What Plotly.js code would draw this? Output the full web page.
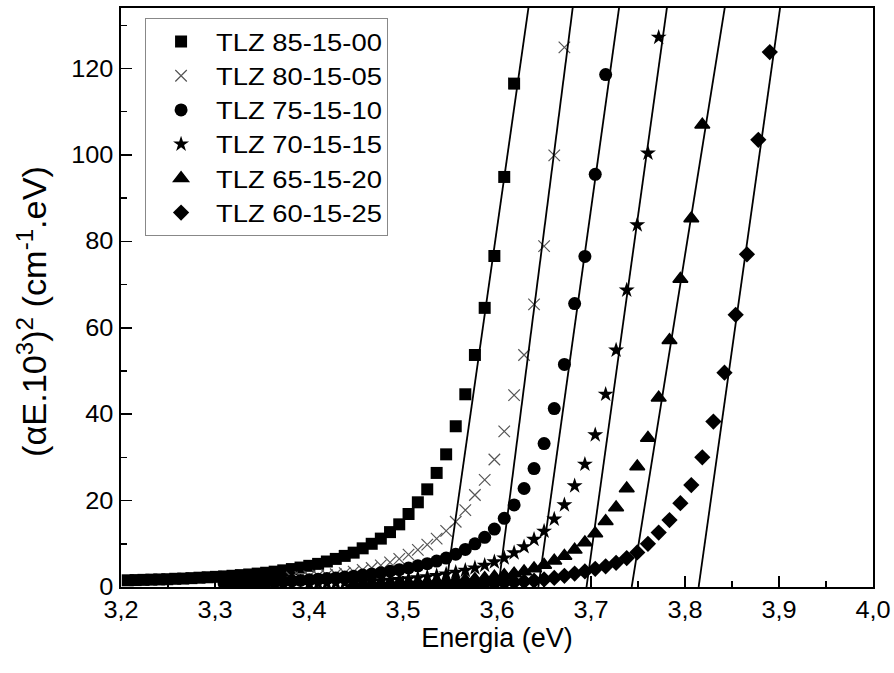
<!DOCTYPE html>
<html>
<head>
<meta charset="utf-8">
<script src="https://cdn.plot.ly/plotly-3.0.1.min.js"></script>
<style>
  html, body { margin: 0; padding: 0; background: #fff; }
  #chart { width: 894px; height: 673px; }
</style>
</head>
<body>
<div id="chart"></div>
<script>
// Tauc plot of TLZ glasses: (alpha*E*10^3)^2 versus photon energy, with linear fits of the absorption edge.
const sampleNames = ['TLZ 85-15-00', 'TLZ 80-15-05', 'TLZ 75-15-10', 'TLZ 70-15-15', 'TLZ 65-15-20', 'TLZ 60-15-25'];

// Photon energy (eV) and (alpha E 10^3)^2 (cm^-1 eV)^2 for each composition
const energy8515 = [3.6182, 3.6077, 3.5972, 3.5869, 3.5765, 3.5663, 3.5561, 3.5459, 3.5358, 3.5258,
  3.5158, 3.5059, 3.4960, 3.4862, 3.4764, 3.4667, 3.4571, 3.4475, 3.4380, 3.4285,
  3.4190, 3.4097, 3.4003, 3.3910, 3.3818, 3.3726, 3.3635, 3.3544, 3.3454, 3.3364,
  3.3275, 3.3186, 3.3097, 3.3010, 3.2922, 3.2835, 3.2749, 3.2662, 3.2577, 3.2492,
  3.2407, 3.2323, 3.2239, 3.2155, 3.2072];
const tauc8515 = [116.5, 94.9, 76.6, 64.6, 53.7, 44.6, 37.2, 30.7, 26.4, 22.6,
  19.6, 16.9, 14.5, 12.7, 11.2, 10.0, 8.95, 7.95, 7.2, 6.5,
  5.9, 5.35, 4.9, 4.5, 4.15, 3.85, 3.55, 3.3, 3.1, 2.9,
  2.75, 2.6, 2.45, 2.35, 2.25, 2.15, 2.05, 1.95, 1.9, 1.8,
  1.75, 1.7, 1.65, 1.6, 1.55];

const energy8015 = [3.6717, 3.6609, 3.6501, 3.6394, 3.6288, 3.6182, 3.6077, 3.5972, 3.5869, 3.5765,
  3.5663, 3.5561, 3.5459, 3.5358, 3.5258, 3.5158, 3.5059, 3.4960, 3.4862, 3.4764,
  3.4667, 3.4571, 3.4475, 3.4380, 3.4285, 3.4190, 3.4097, 3.4003, 3.3910, 3.3818];
const tauc8015 = [124.9, 99.9, 78.9, 65.4, 53.7, 44.4, 36.0, 29.5, 24.8, 21.3,
  17.8, 15.1, 13.0, 11.2, 9.8, 8.6, 7.5, 6.5, 5.7, 5.0,
  4.4, 3.95, 3.55, 3.2, 2.95, 2.75, 2.6, 2.45, 2.3, 2.2];

const energy7515 = [3.7156, 3.7045, 3.6935, 3.6826, 3.6717, 3.6609, 3.6501, 3.6394, 3.6288, 3.6182,
  3.6077, 3.5972, 3.5869, 3.5765, 3.5663, 3.5561, 3.5459, 3.5358, 3.5258, 3.5158,
  3.5059, 3.4960, 3.4862, 3.4764, 3.4667, 3.4571, 3.4475, 3.4380, 3.4285, 3.4190,
  3.4097, 3.4003, 3.3910, 3.3818, 3.3726, 3.3635, 3.3544, 3.3454, 3.3364, 3.3275,
  3.3186, 3.3097];
const tauc7515 = [118.6, 95.5, 76.5, 65.6, 51.5, 41.3, 33.2, 27.4, 22.8, 19.0,
  15.9, 13.4, 11.5, 10.0, 8.7, 7.6, 6.7, 6.0, 5.4, 4.9,
  4.4, 4.0, 3.65, 3.3, 3.0, 2.75, 2.5, 2.3, 2.1, 1.95,
  1.8, 1.65, 1.5, 1.4, 1.3, 1.2, 1.1, 1.0, 0.95, 0.9,
  0.85, 0.8];

const energy7015 = [3.7720, 3.7606, 3.7492, 3.7380, 3.7267, 3.7156, 3.7045, 3.6935, 3.6826, 3.6717,
  3.6609, 3.6501, 3.6394, 3.6288, 3.6182, 3.6077, 3.5972, 3.5869, 3.5765, 3.5663,
  3.5561, 3.5459, 3.5358, 3.5258, 3.5158, 3.5059, 3.4960, 3.4862, 3.4764, 3.4667,
  3.4571, 3.4475, 3.4380, 3.4285, 3.4190, 3.4097, 3.4003];
const tauc7015 = [127.2, 100.4, 83.8, 68.7, 54.8, 44.6, 35.2, 28.4, 23.4, 19.0,
  15.7, 12.9, 11.0, 9.3, 7.9, 6.7, 5.8, 5.0, 4.4, 3.85,
  3.4, 3.0, 2.65, 2.35, 2.1, 1.9, 1.7, 1.55, 1.4, 1.25,
  1.15, 1.05, 0.95, 0.9, 0.85, 0.8, 0.75];

const energy6515 = [3.8184, 3.8067, 3.7951, 3.7835, 3.7720, 3.7606, 3.7492, 3.7380, 3.7267, 3.7156,
  3.7045, 3.6935, 3.6826, 3.6717, 3.6609, 3.6501, 3.6394, 3.6288, 3.6182, 3.6077,
  3.5972, 3.5869, 3.5765, 3.5663, 3.5561, 3.5459, 3.5358, 3.5258, 3.5158, 3.5059,
  3.4960, 3.4862, 3.4764, 3.4667, 3.4571, 3.4475];
const tauc6515 = [107.0, 85.3, 71.3, 57.1, 43.8, 34.5, 27.9, 22.8, 18.4, 15.2,
  12.4, 10.3, 8.6, 7.2, 6.1, 5.1, 4.3, 3.6, 3.1, 2.7,
  2.35, 2.05, 1.8, 1.6, 1.45, 1.3, 1.2, 1.1, 1.0, 0.9,
  0.85, 0.8, 0.75, 0.7, 0.65, 0.6];

const energy6015 = [3.8902, 3.8780, 3.8659, 3.8539, 3.8420, 3.8302, 3.8184, 3.8067, 3.7951, 3.7835,
  3.7720, 3.7606, 3.7492, 3.7380, 3.7267, 3.7156, 3.7045, 3.6935, 3.6826, 3.6717,
  3.6609, 3.6501, 3.6394, 3.6288, 3.6182, 3.6077, 3.5972, 3.5869, 3.5765, 3.5663,
  3.5561, 3.5459, 3.5358, 3.5258, 3.5158, 3.5059, 3.4960];
const tauc6015 = [123.8, 103.5, 77.0, 63.0, 49.6, 38.3, 30.0, 23.6, 19.4, 15.5,
  12.6, 10.0, 8.0, 6.7, 5.6, 4.8, 4.2, 3.6, 3.1, 2.6,
  2.1, 1.75, 1.45, 1.25, 1.1, 1.0, 0.9, 0.8, 0.75, 0.7,
  0.65, 0.6, 0.55, 0.55, 0.5, 0.5, 0.45];

// Linear fits of the absorption edge: optical gap (x-intercept, eV) and slope (per eV)
const fitGap = [3.5456, 3.6014, 3.6440, 3.6952, 3.7433, 3.8145];
const fitSlope = [1525.7, 1693.7, 1561.3, 1566.7, 1354.3, 1546.8];
const fitTop = 140;

const xTickVals = [3.2, 3.3, 3.4, 3.5, 3.6, 3.7, 3.8, 3.9, 4.0];
const xTickText = ['3,2', '3,3', '3,4', '3,5', '3,6', '3,7', '3,8', '3,9', '4,0'];
const yTickVals = [0, 20, 40, 60, 80, 100, 120];

const energies = [energy8515, energy8015, energy7515, energy7015, energy6515, energy6015];
const taucValues = [tauc8515, tauc8015, tauc7515, tauc7015, tauc6515, tauc6015];

const FONT = 'Arial, "Liberation Sans", sans-serif';
const markerStyles = [
  { symbol: 'square', size: 12, color: '#000' },
  { symbol: 'x-thin-open', size: 11.5, color: '#555', line: { color: '#555', width: 1.2 } },
  { symbol: 'circle', size: 13, color: '#000' },
  { symbol: 'star', size: 12, color: '#000' },
  { symbol: 'triangle-up', size: 13, color: '#000', line: { color: '#000', width: 1.5 } },
  { symbol: 'diamond', size: 12.5, color: '#000' }
];

const traces = [];
sampleNames.forEach((name, i) => {
  traces.push({
    type: 'scatter', mode: 'markers', name: name,
    x: energies[i], y: taucValues[i],
    marker: Object.assign({ line: { width: 0 } }, markerStyles[i]),
    cliponaxis: true
  });
});
// fitted straight lines, from the energy axis up past the top of the frame
sampleNames.forEach((name, i) => {
  traces.push({
    type: 'scatter', mode: 'lines', showlegend: false, hoverinfo: 'skip',
    x: [fitGap[i], fitGap[i] + fitTop / fitSlope[i]],
    y: [0, fitTop],
    line: { color: '#000', width: 1.8 }
  });
});

const layout = {
  width: 894, height: 673,
  margin: { l: 121, r: 21, t: 8, b: 86, pad: 0 },
  paper_bgcolor: '#fff', plot_bgcolor: '#fff',
  font: { family: FONT, color: '#000', size: 20 },
  showlegend: true,
  legend: {
    x: 0.032, y: 0.982, xanchor: 'left', yanchor: 'top',
    bgcolor: '#fff', bordercolor: '#888', borderwidth: 1,
    font: { family: FONT, size: 24, color: '#000' },
    itemwidth: 60, tracegroupgap: 0
  },
  xaxis: {
    range: [3.2, 4.0], tickmode: 'array', tickvals: xTickVals, ticktext: xTickText,
    ticks: 'inside', ticklen: 11, tickwidth: 1.5, tickcolor: '#000', ticklabelstandoff: 1,
    minor: { dtick: 0.05, ticks: 'inside', ticklen: 6, tickwidth: 1.5, tickcolor: '#000' },
    showline: true, linecolor: '#000', linewidth: 2, mirror: true,
    showgrid: false, zeroline: false,
    tickfont: { family: FONT, size: 23, color: '#000' },
    title: { text: 'Energia (eV)', font: { family: FONT, size: 27, color: '#000' }, standoff: 0 }
  },
  yaxis: {
    range: [0, 134], tickmode: 'array', tickvals: yTickVals,
    ticks: 'inside', ticklen: 11, tickwidth: 1.5, tickcolor: '#000', ticklabelstandoff: 1,
    minor: { dtick: 10, ticks: 'inside', ticklen: 6, tickwidth: 1.5, tickcolor: '#000' },
    showline: true, linecolor: '#000', linewidth: 2, mirror: true,
    showgrid: false, zeroline: false,
    tickfont: { family: FONT, size: 23, color: '#000' },
    title: { text: '(αE.10<sup>3</sup>)<sup>2</sup> (cm<sup>-1</sup>.eV)', font: { family: FONT, size: 33, color: '#000' }, standoff: 18 }
  }
};

// Tick and legend lettering is set in a wide sans face: widen the glyphs of a text group,
// keeping each text on its own anchor (start, middle or end).
function widenText(root, selector, factor) {
  let extra = 0;
  root.querySelectorAll(selector).forEach(t => {
    const w = t.getComputedTextLength();
    if (!(w > 0)) return;
    const b0 = t.getBBox();
    const newLen = w * factor;
    t.setAttribute('textLength', newLen.toFixed(1));
    t.setAttribute('lengthAdjust', 'spacingAndGlyphs');
    const b1 = t.getBBox();
    const anchor = t.getAttribute('text-anchor') || getComputedStyle(t).textAnchor || 'start';
    let shift;
    if (anchor === 'middle') shift = (b0.x + b0.width / 2) - (b1.x + b1.width / 2);
    else if (anchor === 'end') shift = (b0.x + b0.width) - (b1.x + b1.width);
    else shift = b0.x - b1.x;
    if (Math.abs(shift) > 0.05) {
      t.setAttribute('transform', ((t.getAttribute('transform') || '') + ' translate(' + shift.toFixed(2) + ',0)').trim());
    }
    extra = Math.max(extra, newLen - w);
  });
  return extra;
}

// nudge a text in its own frame (for the rotated y title, negative dx moves it downwards)
function nudgeText(root, selector, dx, dy) {
  root.querySelectorAll(selector).forEach(t => {
    t.setAttribute('transform', ((t.getAttribute('transform') || '') + ' translate(' + dx + ',' + dy + ')').trim());
  });
}

Plotly.newPlot('chart', traces, layout, { displayModeBar: false, staticPlot: true }).then(gd => {
  widenText(gd, 'g.xtick text', 1.1);
  widenText(gd, 'g.ytick text', 1.1);
  widenText(gd, 'text.ytitle', 1.04);
  nudgeText(gd, 'text.ytitle', -14, 0);
  const extra = widenText(gd, 'text.legendtext', 1.14);
  // grow the legend frame (and its clip box) by the added text width
  const bg = gd.querySelector('.legend rect.bg');
  if (bg) bg.setAttribute('width', (parseFloat(bg.getAttribute('width')) + extra).toFixed(1));
  document.querySelectorAll('clipPath[id^="legend"] rect').forEach(r => {
    r.setAttribute('width', (parseFloat(r.getAttribute('width')) + extra + 2).toFixed(1));
  });
});
</script>
</body>
</html>
